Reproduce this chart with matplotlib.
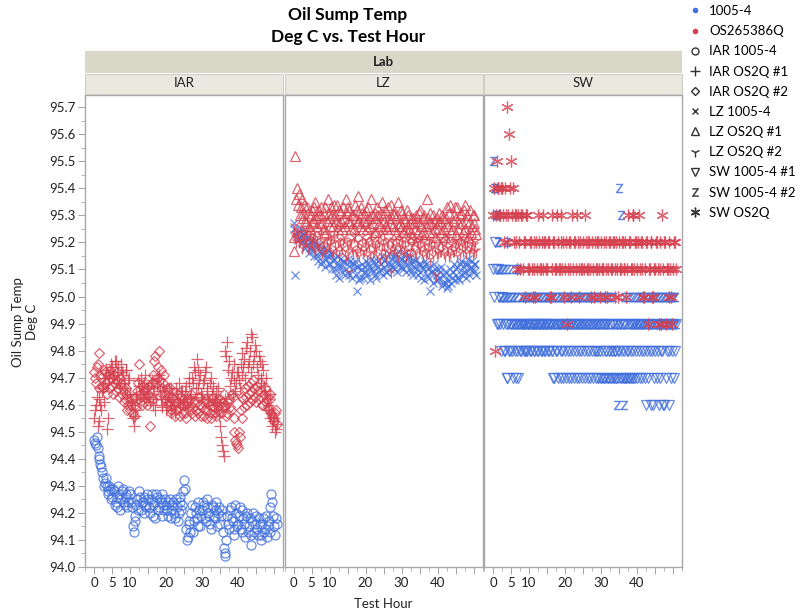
import numpy as np
import matplotlib.pyplot as plt
from matplotlib.lines import Line2D
from matplotlib.patches import Rectangle
from matplotlib.ticker import MultipleLocator

plt.rcParams['font.family'] = ['Lato', 'DejaVu Sans']

BLUE = '#4270DC'
RED = '#D6404F'

# test hour sampling: readings on the half hour and on the quarter past
hours = np.arange(0, 51, 0.5)
hours_q = hours + 0.25

iar_1005 = [
    94.47, 94.45, 94.44, 94.40, 94.37, 94.33, 94.31, 94.30, 94.28, 94.29,
    94.26, 94.28, 94.24, 94.22, 94.27, 94.25, 94.29, 94.23, 94.26, 94.24,
    94.27, 94.22, 94.13, 94.17, 94.25, 94.28, 94.21, 94.24, 94.26, 94.22,
    94.25, 94.20, 94.27, 94.23, 94.18, 94.26, 94.22, 94.24, 94.27, 94.21,
    94.23, 94.19, 94.25, 94.21, 94.24, 94.18, 94.22, 94.20, 94.26, 94.23,
    94.32, 94.14, 94.11, 94.16, 94.20, 94.13, 94.22, 94.18, 94.24, 94.15,
    94.21, 94.23, 94.17, 94.25, 94.19, 94.14, 94.22, 94.18, 94.24, 94.20,
    94.16, 94.21, 94.07, 94.04, 94.19, 94.14, 94.22, 94.17, 94.12, 94.20,
    94.16, 94.22, 94.13, 94.18, 94.11, 94.20, 94.15, 94.08, 94.17, 94.13,
    94.19, 94.12, 94.16, 94.10, 94.18, 94.14, 94.11, 94.17, 94.22, 94.24,
    94.15, 94.18]
iar_1005_q = [
    94.46, 94.48, 94.41, 94.38, 94.35, 94.30, 94.33, 94.27, 94.30, 94.25,
    94.29, 94.23, 94.26, 94.30, 94.21, 94.28, 94.24, 94.27, 94.22, 94.28,
    94.24, 94.15, 94.19, 94.23, 94.21, 94.26, 94.24, 94.20, 94.23, 94.27,
    94.22, 94.25, 94.19, 94.24, 94.27, 94.21, 94.25, 94.19, 94.23, 94.25,
    94.21, 94.24, 94.18, 94.23, 94.20, 94.25, 94.17, 94.24, 94.21, 94.28,
    94.29, 94.10, 94.17, 94.13, 94.23, 94.17, 94.20, 94.15, 94.21, 94.19,
    94.24, 94.18, 94.22, 94.20, 94.16, 94.23, 94.19, 94.21, 94.15, 94.22,
    94.19, 94.13, 94.05, 94.10, 94.16, 94.21, 94.18, 94.14, 94.23, 94.15,
    94.19, 94.14, 94.21, 94.16, 94.19, 94.13, 94.18, 94.12, 94.20, 94.16,
    94.14, 94.18, 94.12, 94.16, 94.13, 94.19, 94.15, 94.13, 94.27, 94.19,
    94.12, 94.16]

iar_os2q_1 = [
    94.55, 94.60, 94.52, 94.62, 94.58, 94.66, 94.70, 94.51, 94.68, 94.72,
    94.74, 94.70, 94.76, 94.72, 94.68, 94.75, 94.71, 94.66, 94.73, 94.69,
    94.64, 94.60, 94.52, 94.56, 94.62, 94.67, 94.70, 94.65, 94.68, 94.63,
    94.66, 94.61, 94.69, 94.64, 94.58, 94.67, 94.71, 94.62, 94.59, 94.65,
    94.58, 94.63, 94.60, 94.66, 94.62, 94.57, 94.64, 94.68, 94.61, 94.65,
    94.62, 94.67, 94.59, 94.70, 94.64, 94.68, 94.72, 94.77, 94.66, 94.71,
    94.63, 94.69, 94.74, 94.65, 94.60, 94.70, 94.67, 94.62, 94.58, 94.66,
    94.52, 94.45, 94.41, 94.80, 94.83, 94.76, 94.70, 94.64, 94.75, 94.68,
    94.72, 94.66, 94.79, 94.74, 94.70, 94.83, 94.76, 94.72, 94.85, 94.78,
    94.80, 94.71, 94.76, 94.68, 94.73, 94.65, 94.62, 94.58, 94.55, 94.52,
    94.55, 94.51]
iar_os2q_1_q = [
    94.58, 94.63, 94.54, 94.60, 94.65, 94.61, 94.73, 94.55, 94.70, 94.75,
    94.71, 94.76, 94.69, 94.74, 94.66, 94.72, 94.68, 94.73, 94.64, 94.70,
    94.61, 94.55, 94.58, 94.64, 94.69, 94.64, 94.67, 94.62, 94.71, 94.66,
    94.63, 94.68, 94.60, 94.66, 94.62, 94.70, 94.65, 94.60, 94.67, 94.62,
    94.61, 94.66, 94.58, 94.64, 94.60, 94.66, 94.62, 94.59, 94.65, 94.61,
    94.65, 94.60, 94.68, 94.63, 94.70, 94.74, 94.66, 94.73, 94.69, 94.64,
    94.68, 94.72, 94.66, 94.62, 94.68, 94.64, 94.60, 94.65, 94.61, 94.56,
    94.48, 94.43, 94.62, 94.78, 94.73, 94.67, 94.72, 94.69, 94.65, 94.72,
    94.69, 94.75, 94.71, 94.77, 94.81, 94.74, 94.80, 94.86, 94.75, 94.82,
    94.74, 94.78, 94.70, 94.75, 94.67, 94.70, 94.60, 94.64, 94.57, 94.54,
    94.50, 94.53]

iar_os2q_2 = [
    94.72, 94.68, 94.75, 94.79, 94.70, 94.66, 94.72, 94.64, 94.69, 94.73,
    94.67, 94.71, 94.65, 94.69, 94.63, 94.68, 94.66, 94.62, 94.64, 94.60,
    94.58, 94.62, 94.56, 94.60, 94.65, 94.75, 94.63, 94.67, 94.61, 94.66,
    94.64, 94.52, 94.68, 94.62, 94.78, 94.70, 94.80, 94.73, 94.66, 94.71,
    94.64, 94.60, 94.66, 94.58, 94.62, 94.56, 94.61, 94.59, 94.63, 94.57,
    94.60, 94.55, 94.62, 94.58, 94.64, 94.59, 94.56, 94.61, 94.57, 94.63,
    94.59, 94.56, 94.62, 94.58, 94.60, 94.55, 94.63, 94.57, 94.61, 94.58,
    94.62, 94.59, 94.64, 94.60, 94.57, 94.62, 94.58, 94.63, 94.50, 94.46,
    94.44, 94.48, 94.55, 94.62, 94.66, 94.60, 94.64, 94.68, 94.62, 94.66,
    94.61, 94.65, 94.68, 94.63, 94.60, 94.66, 94.62, 94.58, 94.62, 94.56,
    94.54, 94.58]
iar_os2q_2_q = [
    94.70, 94.74, 94.66, 94.71, 94.67, 94.73, 94.68, 94.71, 94.66, 94.70,
    94.64, 94.68, 94.72, 94.66, 94.70, 94.64, 94.61, 94.66, 94.58, 94.62,
    94.60, 94.57, 94.63, 94.59, 94.68, 94.64, 94.60, 94.65, 94.63, 94.60,
    94.67, 94.63, 94.71, 94.76, 94.68, 94.74, 94.69, 94.64, 94.68, 94.62,
    94.66, 94.61, 94.57, 94.63, 94.60, 94.58, 94.64, 94.56, 94.60, 94.62,
    94.57, 94.61, 94.59, 94.62, 94.57, 94.61, 94.58, 94.63, 94.60, 94.56,
    94.61, 94.58, 94.55, 94.61, 94.57, 94.62, 94.59, 94.56, 94.62, 94.60,
    94.57, 94.61, 94.59, 94.56, 94.61, 94.59, 94.64, 94.55, 94.47, 94.45,
    94.50, 94.58, 94.63, 94.59, 94.63, 94.67, 94.61, 94.65, 94.69, 94.63,
    94.67, 94.62, 94.65, 94.60, 94.64, 94.61, 94.59, 94.64, 94.57, 94.55,
    94.57, 94.53]

lz_1005 = [
    95.27, 95.08, 95.24, 95.22, 95.25, 95.21, 95.23, 95.19, 95.22, 95.18,
    95.21, 95.17, 95.20, 95.15, 95.19, 95.16, 95.13, 95.18, 95.14, 95.17,
    95.12, 95.16, 95.13, 95.10, 95.15, 95.11, 95.14, 95.09, 95.13, 95.10,
    95.14, 95.08, 95.12, 95.10, 95.13, 95.02, 95.11, 95.07, 95.12, 95.09,
    95.13, 95.08, 95.11, 95.14, 95.09, 95.12, 95.07, 95.13, 95.10, 95.15,
    95.11, 95.14, 95.09, 95.16, 95.12, 95.15, 95.10, 95.13, 95.17, 95.11,
    95.14, 95.10, 95.16, 95.12, 95.15, 95.09, 95.13, 95.11, 95.14, 95.08,
    95.12, 95.07, 95.10, 95.13, 95.08, 95.11, 95.02, 95.09, 95.12, 95.06,
    95.10, 95.07, 95.11, 95.05, 95.09, 95.06, 95.04, 95.10, 95.07, 95.12,
    95.08, 95.11, 95.06, 95.13, 95.09, 95.12, 95.07, 95.14, 95.10, 95.13,
    95.09, 95.12]
lz_1005_q = [
    95.25, 95.23, 95.21, 95.24, 95.20, 95.23, 95.18, 95.21, 95.16, 95.20,
    95.18, 95.15, 95.19, 95.13, 95.17, 95.12, 95.16, 95.11, 95.15, 95.12,
    95.15, 95.10, 95.14, 95.08, 95.12, 95.07, 95.11, 95.13, 95.08, 95.12,
    95.09, 95.13, 95.07, 95.12, 95.08, 95.11, 95.06, 95.10, 95.07, 95.11,
    95.09, 95.12, 95.06, 95.10, 95.13, 95.08, 95.11, 95.09, 95.12, 95.08,
    95.13, 95.09, 95.12, 95.10, 95.14, 95.11, 95.15, 95.09, 95.12, 95.14,
    95.11, 95.13, 95.09, 95.14, 95.10, 95.12, 95.08, 95.13, 95.10, 95.12,
    95.09, 95.11, 95.06, 95.12, 95.10, 95.07, 95.09, 95.05, 95.10, 95.08,
    95.06, 95.09, 95.04, 95.08, 95.05, 95.03, 95.08, 95.05, 95.09, 95.06,
    95.10, 95.07, 95.12, 95.08, 95.11, 95.09, 95.12, 95.08, 95.11, 95.10,
    95.12, 95.08]

lz_os2q_1 = [
    95.17, 95.52, 95.40, 95.38, 95.33, 95.29, 95.34, 95.27, 95.31, 95.25,
    95.32, 95.28, 95.35, 95.26, 95.30, 95.33, 95.27, 95.31, 95.24, 95.36,
    95.29, 95.33, 95.26, 95.30, 95.34, 95.27, 95.31, 95.25, 95.29, 95.36,
    95.28, 95.32, 95.25, 95.30, 95.34, 95.27, 95.37, 95.26, 95.31, 95.28,
    95.32, 95.25, 95.29, 95.36, 95.27, 95.31, 95.24, 95.30, 95.26, 95.35,
    95.28, 95.32, 95.25, 95.29, 95.34, 95.26, 95.30, 95.23, 95.35, 95.27,
    95.31, 95.24, 95.28, 95.32, 95.25, 95.29, 95.22, 95.27, 95.30, 95.24,
    95.32, 95.26, 95.29, 95.23, 95.36, 95.27, 95.31, 95.24, 95.28, 95.22,
    95.27, 95.31, 95.24, 95.29, 95.22, 95.33, 95.26, 95.34, 95.25, 95.30,
    95.23, 95.33, 95.27, 95.31, 95.24, 95.34, 95.28, 95.22, 95.32, 95.26,
    95.30, 95.25]
lz_os2q_1_q = [
    95.22, 95.36, 95.34, 95.30, 95.36, 95.31, 95.28, 95.33, 95.26, 95.30,
    95.27, 95.33, 95.29, 95.32, 95.27, 95.30, 95.25, 95.33, 95.28, 95.31,
    95.26, 95.30, 95.34, 95.28, 95.25, 95.32, 95.28, 95.33, 95.26, 95.31,
    95.33, 95.27, 95.30, 95.25, 95.29, 95.32, 95.28, 95.33, 95.25, 95.30,
    95.27, 95.33, 95.26, 95.30, 95.24, 95.29, 95.33, 95.27, 95.31, 95.25,
    95.30, 95.26, 95.33, 95.27, 95.29, 95.31, 95.25, 95.30, 95.26, 95.32,
    95.26, 95.29, 95.25, 95.30, 95.27, 95.24, 95.29, 95.25, 95.28, 95.31,
    95.27, 95.23, 95.30, 95.26, 95.29, 95.24, 95.27, 95.30, 95.25, 95.29,
    95.25, 95.28, 95.30, 95.25, 95.29, 95.27, 95.31, 95.24, 95.28, 95.33,
    95.29, 95.25, 95.30, 95.27, 95.32, 95.25, 95.30, 95.27, 95.24, 95.30,
    95.27, 95.23]

lz_os2q_2 = [
    95.26, 95.22, 95.25, 95.20, 95.24, 95.19, 95.23, 95.21, 95.18, 95.24,
    95.20, 95.23, 95.17, 95.22, 95.19, 95.25, 95.16, 95.21, 95.18, 95.23,
    95.19, 95.22, 95.16, 95.20, 95.24, 95.17, 95.21, 95.18, 95.22, 95.15,
    95.19, 95.09, 95.21, 95.17, 95.23, 95.16, 95.20, 95.18, 95.22, 95.17,
    95.21, 95.15, 95.19, 95.23, 95.16, 95.20, 95.18, 95.22, 95.14, 95.19,
    95.23, 95.17, 95.20, 95.16, 95.09, 95.21, 95.18, 95.22, 95.15, 95.19,
    95.22, 95.16, 95.20, 95.17, 95.23, 95.15, 95.19, 95.21, 95.16, 95.20,
    95.18, 95.22, 95.15, 95.19, 95.17, 95.21, 95.14, 95.18, 95.20, 95.08,
    95.16, 95.21, 95.17, 95.19, 95.15, 95.22, 95.18, 95.16, 95.20, 95.17,
    95.21, 95.15, 95.19, 95.22, 95.17, 95.20, 95.16, 95.23, 95.18, 95.21,
    95.17, 95.20]
lz_os2q_2_q = [
    95.23, 95.20, 95.24, 95.21, 95.18, 95.22, 95.20, 95.24, 95.19, 95.21,
    95.22, 95.18, 95.21, 95.19, 95.23, 95.18, 95.20, 95.17, 95.21, 95.19,
    95.21, 95.17, 95.22, 95.18, 95.20, 95.15, 95.19, 95.21, 95.17, 95.20,
    95.16, 95.20, 95.18, 95.22, 95.17, 95.20, 95.15, 95.19, 95.17, 95.21,
    95.18, 95.20, 95.16, 95.21, 95.18, 95.19, 95.15, 95.20, 95.17, 95.21,
    95.19, 95.15, 95.21, 95.18, 95.20, 95.17, 95.19, 95.16, 95.21, 95.18,
    95.20, 95.18, 95.15, 95.21, 95.17, 95.19, 95.21, 95.17, 95.20, 95.18,
    95.21, 95.17, 95.20, 95.16, 95.19, 95.17, 95.20, 95.15, 95.18, 95.16,
    95.19, 95.17, 95.20, 95.16, 95.21, 95.18, 95.15, 95.19, 95.17, 95.20,
    95.18, 95.20, 95.16, 95.19, 95.21, 95.18, 95.20, 95.17, 95.19, 95.16,
    95.19, 95.17]

sw_1005_1 = [
    95.1, 95.2, 94.9, 95.1, 94.9, 95.0, 94.8, 94.9, 94.7, 94.8,
    94.9, 94.7, 94.8, 94.9, 94.7, 94.8, 94.9, 94.8, 94.9, 94.8,
    94.9, 94.8, 94.9, 94.8, 94.9, 94.8, 94.9, 94.8, 94.9, 94.8,
    94.9, 94.8, 94.9, 94.8, 94.7, 94.8, 94.7, 94.9, 94.8, 94.7,
    94.8, 94.9, 94.7, 94.8, 94.9, 94.7, 94.8, 94.9, 94.7, 94.8,
    94.9, 94.7, 94.8, 94.9, 94.7, 94.8, 94.9, 94.7, 94.8, 94.9,
    94.7, 94.8, 94.9, 94.8, 94.7, 94.9, 94.8, 94.7, 94.8, 94.9,
    94.8, 94.7, 94.9, 94.8, 94.7, 94.8, 94.9, 94.7, 94.8, 94.9,
    94.7, 94.8, 94.9, 94.7, 94.8, 94.6, 94.7, 94.8, 94.9, 94.6,
    94.8, 94.7, 94.6, 94.9, 94.8, 94.6, 94.7, 94.9, 94.8, 94.7,
    94.9, 94.8]
sw_1005_1_q = [
    95.0, 95.1, 94.9, 95.0, 94.8, 94.9, 94.8, 94.7, 94.9, 94.8,
    94.8, 94.9, 94.7, 94.8, 94.9, 94.8, 94.9, 94.8, 94.8, 94.9,
    94.8, 94.9, 94.8, 94.9, 94.8, 94.9, 94.8, 94.9, 94.8, 94.9,
    94.8, 94.9, 94.8, 94.7, 94.9, 94.8, 94.9, 94.7, 94.8, 94.9,
    94.7, 94.8, 94.9, 94.7, 94.8, 94.9, 94.7, 94.8, 94.9, 94.7,
    94.8, 94.9, 94.7, 94.8, 94.9, 94.7, 94.8, 94.9, 94.7, 94.8,
    94.9, 94.7, 94.8, 94.9, 94.8, 94.7, 94.9, 94.8, 94.7, 94.8,
    94.9, 94.8, 94.7, 94.9, 94.8, 94.7, 94.8, 94.9, 94.7, 94.8,
    94.9, 94.7, 94.8, 94.9, 94.7, 94.8, 94.9, 94.6, 94.8, 94.7,
    94.9, 94.8, 94.7, 94.8, 94.6, 94.9, 94.8, 94.6, 94.9, 94.8,
    94.7, 94.9]

sw_1005_2 = [
    95.5, 95.4, 95.3, 95.2, 95.1, 95.0, 95.1, 95.0, 95.2, 95.0,
    95.1, 95.0, 94.9, 95.0, 95.1, 94.9, 95.0, 94.9, 95.0, 94.9,
    95.0, 94.9, 95.0, 94.9, 95.0, 94.9, 95.0, 94.9, 95.0, 94.9,
    95.0, 94.9, 95.0, 94.9, 95.0, 94.9, 95.0, 94.9, 95.0, 94.9,
    95.0, 94.9, 95.0, 94.9, 95.0, 94.9, 95.0, 94.9, 95.0, 94.9,
    95.0, 94.9, 95.0, 94.9, 95.0, 94.9, 95.0, 94.9, 94.8, 95.0,
    94.9, 94.7, 95.0, 94.9, 94.7, 95.0, 94.8, 94.7, 94.9, 94.6,
    95.4, 95.3, 94.7, 94.6, 94.9, 94.7, 95.0, 94.9, 94.7, 95.0,
    94.9, 95.0, 94.9, 95.0, 94.9, 95.0, 94.9, 95.0, 94.9, 95.0,
    94.9, 95.0, 94.9, 95.0, 94.9, 95.0, 94.9, 95.0, 94.9, 95.0,
    94.9, 95.0]
sw_1005_2_q = [
    95.4, 95.3, 95.2, 95.1, 95.0, 95.1, 95.0, 95.1, 95.0, 94.9,
    95.0, 94.9, 95.0, 95.1, 94.9, 95.0, 94.9, 95.0, 94.9, 95.0,
    94.9, 95.0, 94.9, 95.0, 94.9, 95.0, 94.9, 95.0, 94.9, 95.0,
    94.9, 95.0, 94.9, 95.0, 94.9, 95.0, 94.9, 95.0, 94.9, 95.0,
    94.9, 95.0, 94.9, 95.0, 94.9, 95.0, 94.9, 95.0, 94.9, 95.0,
    94.9, 95.0, 94.9, 95.0, 94.9, 95.0, 94.9, 95.0, 94.9, 94.7,
    95.0, 94.9, 94.7, 95.0, 94.9, 94.7, 95.0, 94.9, 94.7, 94.9,
    94.7, 94.9, 95.0, 94.7, 95.0, 94.9, 94.7, 95.0, 94.9, 94.9,
    95.0, 94.9, 95.0, 94.9, 95.0, 94.9, 95.0, 94.9, 95.0, 94.9,
    95.0, 94.9, 95.0, 94.9, 95.0, 94.9, 95.0, 94.9, 95.0, 94.9,
    95.0, 94.9]

sw_os2q = [
    95.3, 94.8, 95.5, 95.4, 95.3, 95.4, 95.2, 95.3, 95.7, 95.6,
    95.5, 95.4, 95.3, 95.2, 95.3, 95.1, 95.3, 95.2, 95.0, 95.3,
    95.1, 95.2, 95.0, 95.1, 95.2, 95.3, 95.1, 95.2, 95.1, 95.2,
    95.1, 95.2, 95.0, 95.3, 95.2, 95.1, 95.2, 95.1, 95.3, 95.2,
    95.1, 94.9, 95.2, 95.1, 95.3, 95.2, 95.1, 95.2, 95.0, 95.1,
    95.2, 95.3, 95.1, 95.2, 95.1, 95.2, 95.0, 95.1, 95.2, 95.1,
    95.2, 95.1, 95.0, 95.2, 95.1, 95.2, 95.1, 95.2, 95.0, 95.1,
    95.2, 95.1, 95.2, 95.1, 95.0, 95.3, 95.2, 95.1, 95.3, 95.2,
    95.1, 95.3, 95.2, 95.1, 95.0, 95.2, 94.9, 95.1, 95.2, 95.0,
    95.1, 95.2, 94.9, 95.1, 95.3, 95.2, 94.9, 95.1, 95.2, 95.0,
    95.1, 95.2]
sw_os2q_q = [
    95.4, 95.3, 95.4, 95.3, 95.4, 95.3, 95.4, 95.2, 95.3, 95.4,
    95.3, 95.2, 95.3, 95.1, 95.2, 95.3, 95.1, 95.2, 95.3, 95.1,
    95.2, 95.1, 95.2, 95.0, 95.1, 95.2, 95.1, 95.3, 95.2, 95.1,
    95.2, 95.0, 95.1, 95.2, 95.1, 95.3, 95.1, 95.2, 95.1, 95.0,
    95.2, 95.1, 95.2, 95.0, 95.1, 95.2, 95.3, 95.1, 95.2, 95.1,
    95.1, 95.2, 95.1, 95.2, 95.0, 95.1, 95.2, 95.1, 95.2, 95.0,
    95.1, 95.2, 95.1, 95.0, 95.2, 95.1, 95.2, 95.1, 95.2, 95.0,
    95.1, 95.2, 95.1, 95.2, 95.1, 95.2, 95.1, 95.3, 95.1, 95.2,
    95.2, 95.1, 95.2, 95.0, 95.1, 95.2, 95.1, 95.2, 95.0, 95.1,
    95.2, 95.1, 95.2, 94.9, 95.1, 95.2, 95.1, 95.0, 95.1, 94.9,
    95.2, 95.1]

labs = ['IAR', 'LZ', 'SW']
ytick_vals = np.round(np.arange(94.0, 95.71, 0.1), 1)
xtick_vals = [0, 5, 10, 15, 20, 25, 30, 35, 40, 45, 50]
xtick_text = ['0', '5', '10', '', '20', '', '30', '', '40', '', '']

ASTER = (6, 2, 0)
ZMARK = r'$\mathregular{Z}$'

# lab -> list of (hours, values, color, marker, size, hollow)
series = {
    'IAR': [(hours, iar_1005, BLUE, 'o', 6.5, True),
            (hours_q, iar_1005_q, BLUE, 'o', 6.5, True),
            (hours, iar_os2q_2, RED, 'D', 5.5, True),
            (hours_q, iar_os2q_2_q, RED, 'D', 5.5, True),
            (hours, iar_os2q_1, RED, '+', 8.5, False),
            (hours_q, iar_os2q_1_q, RED, '+', 8.5, False)],
    'LZ': [(hours, lz_1005, BLUE, 'x', 6.0, False),
           (hours_q, lz_1005_q, BLUE, 'x', 6.0, False),
           (hours, lz_os2q_2, RED, '1', 8.0, False),
           (hours_q, lz_os2q_2_q, RED, '1', 8.0, False),
           (hours, lz_os2q_1, RED, '^', 7.5, True),
           (hours_q, lz_os2q_1_q, RED, '^', 7.5, True)],
    'SW': [(hours, sw_1005_1, BLUE, 'v', 7.5, True),
           (hours_q, sw_1005_1_q, BLUE, 'v', 7.5, True),
           (hours, sw_1005_2, BLUE, ZMARK, 6.5, False),
           (hours_q, sw_1005_2_q, BLUE, ZMARK, 6.5, False),
           (hours, sw_os2q, RED, ASTER, 8.5, False),
           (hours_q, sw_os2q_q, RED, ASTER, 8.5, False)],
}

W, H = 809, 614
def fx(px):
    return px / W
def fy(py):
    return 1 - py / H

fig = plt.figure(figsize=(W / 100, H / 100), dpi=100)

panel_left = [85, 284.5, 484]
panel_w = 198
top, bottom = 95, 567
spine_col = '#a8a8a8'

for i, lab in enumerate(labs):
    ax = fig.add_axes([fx(panel_left[i]), fy(bottom), panel_w / W, (bottom - top) / H])
    for hx, vals, col, mk, ms, hollow in series[lab]:
        ax.plot(hx, vals, ls='none', marker=mk, ms=ms,
                mfc='none' if hollow else col, mec=col,
                mew=0.3 if mk == ZMARK else 0.9, alpha=0.8)
    ax.set_xlim(-2.5, 52.5)
    ax.set_ylim(94.0, 95.745)
    ax.set_xticks(xtick_vals)
    ax.set_xticklabels(xtick_text)
    ax.xaxis.set_minor_locator(MultipleLocator(2.5))
    ax.set_yticks(ytick_vals)
    ax.yaxis.set_minor_locator(MultipleLocator(0.05))
    ax.tick_params(axis='both', which='major', direction='out', length=5,
                   color=spine_col, labelsize=9.5, pad=2, labelcolor='#222222')
    ax.tick_params(axis='both', which='minor', direction='out', length=3, color=spine_col)
    if i == 0:
        ax.set_yticklabels([f'{v:.1f}' for v in ytick_vals])
    else:
        ax.tick_params(axis='y', which='both', left=False, labelleft=False)
    for s in ax.spines.values():
        s.set_color(spine_col)
        s.set_linewidth(1.0)
    # panel label band
    fig.patches.append(Rectangle((fx(panel_left[i]), fy(94)), panel_w / W, 20 / H,
                                 transform=fig.transFigure, facecolor='#EAE9DF',
                                 edgecolor='#cfcfc5', lw=0.8))
    fig.text(fx(panel_left[i] + panel_w / 2), fy(83), lab, ha='center', va='center',
             fontsize=9.5, color='#222222')

# "Lab" header band
fig.patches.append(Rectangle((fx(85), fy(73)), (682 - 85) / W, 22 / H,
                             transform=fig.transFigure, facecolor='#D9D7C7',
                             edgecolor='none'))
fig.text(fx(383), fy(61.5), 'Lab', ha='center', va='center', fontsize=9.5,
         fontweight='bold', color='#222222')

fig.text(fx(348), fy(15), 'Oil Sump Temp', ha='center', va='center',
         fontsize=12.5, fontweight='bold')
fig.text(fx(348), fy(37), 'Deg C vs. Test Hour', ha='center', va='center',
         fontsize=12.5, fontweight='bold')

fig.text(fx(25), fy(322), 'Oil Sump Temp\nDeg C', rotation=90, ha='center',
         va='center', multialignment='center', fontsize=9.5, color='#222222')
fig.text(fx(383), fy(604), 'Test Hour', ha='center', va='center', fontsize=9.5,
         color='#222222')

# legend
leg_labels = ['1005-4', 'OS265386Q', 'IAR 1005-4', 'IAR OS2Q #1', 'IAR OS2Q #2',
              'LZ 1005-4', 'LZ OS2Q #1', 'LZ OS2Q #2', 'SW 1005-4 #1',
              'SW 1005-4 #2', 'SW OS2Q']
k = '#333333'
leg_handles = [
    Line2D([], [], ls='none', marker='o', ms=3, color=BLUE),
    Line2D([], [], ls='none', marker='o', ms=3, color=RED),
    Line2D([], [], ls='none', marker='o', ms=5, mfc='none', mec=k),
    Line2D([], [], ls='none', marker='+', ms=7, mec=k),
    Line2D([], [], ls='none', marker='D', ms=4.5, mfc='none', mec=k),
    Line2D([], [], ls='none', marker='x', ms=5, mec=k),
    Line2D([], [], ls='none', marker='^', ms=6, mfc='none', mec=k),
    Line2D([], [], ls='none', marker='1', ms=7, mec=k),
    Line2D([], [], ls='none', marker='v', ms=6, mfc='none', mec=k),
    Line2D([], [], ls='none', marker=ZMARK, ms=6, mec=k, mfc=k, mew=0.3),
    Line2D([], [], ls='none', marker=ASTER, ms=7, mec=k),
]
fig.legend(leg_handles, leg_labels, loc='upper left', bbox_to_anchor=(fx(688), fy(5)),
           frameon=False, fontsize=9.5, handlelength=1.0, handletextpad=0.6,
           labelspacing=0.62, borderaxespad=0, borderpad=0)

fig.savefig('out.png', dpi=100)
